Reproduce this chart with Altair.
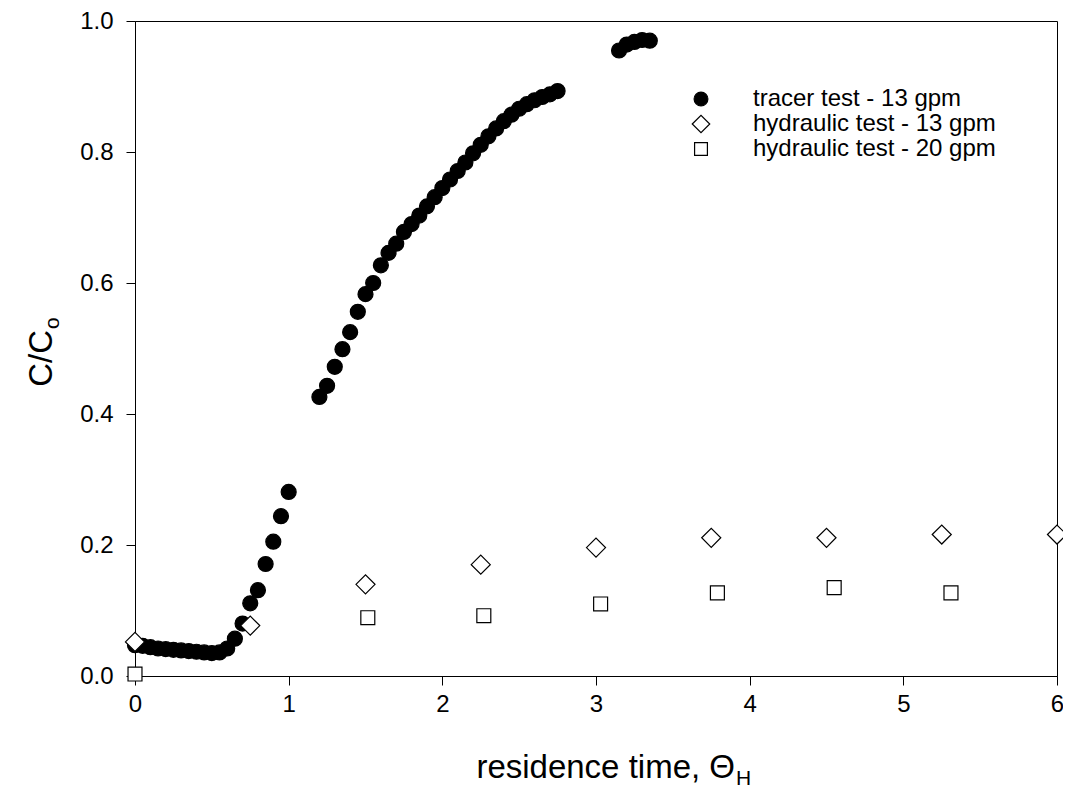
import altair as alt
import pandas as pd

# ---- data ----
tracer_x = [0.00, 0.05, 0.10, 0.15, 0.20, 0.25, 0.30, 0.35, 0.40, 0.45, 0.50, 0.55,
            0.60, 0.65, 0.70, 0.75, 0.80, 0.85, 0.90, 0.95, 1.00,
            1.20, 1.25, 1.30, 1.35, 1.40, 1.45, 1.50, 1.55, 1.60, 1.65, 1.70, 1.75,
            1.80, 1.85, 1.90, 1.95, 2.00, 2.05, 2.10, 2.15, 2.20, 2.25, 2.30, 2.35,
            2.40, 2.45, 2.50, 2.55, 2.60, 2.65, 2.70, 2.75,
            3.15, 3.20, 3.25, 3.30, 3.35]
tracer_y = [0.047, 0.046, 0.044, 0.042, 0.041, 0.040, 0.039, 0.038, 0.037, 0.036, 0.035, 0.036,
            0.042, 0.057, 0.080, 0.111, 0.131, 0.171, 0.205, 0.244, 0.281,
            0.426, 0.443, 0.472, 0.499, 0.525, 0.556, 0.583, 0.600, 0.627, 0.646, 0.660, 0.678,
            0.690, 0.703, 0.717, 0.731, 0.745, 0.758, 0.771, 0.784, 0.798, 0.811, 0.824, 0.836,
            0.847, 0.857, 0.866, 0.873, 0.879, 0.884, 0.888, 0.893,
            0.955, 0.964, 0.968, 0.971, 0.970]

h13_x = [0.0, 0.75, 1.50, 2.25, 3.00, 3.75, 4.50, 5.25, 6.00]
h13_y = [0.052, 0.077, 0.140, 0.170, 0.196, 0.211, 0.211, 0.216, 0.216]

h20_x = [0.0, 1.515, 2.27, 3.03, 3.79, 4.55, 5.31]
h20_y = [0.003, 0.089, 0.092, 0.110, 0.127, 0.135, 0.127]

series = ["tracer test - 13 gpm", "hydraulic test - 13 gpm", "hydraulic test - 20 gpm"]
x_ticks = [0, 1, 2, 3, 4, 5, 6]
y_ticks = [0.0, 0.2, 0.4, 0.6, 0.8, 1.0]

rows = []
for s, xs, ys in zip(series, [tracer_x, h13_x, h20_x], [tracer_y, h13_y, h20_y]):
    for xv, yv in zip(xs, ys):
        rows.append({"series": s, "theta": xv, "c": yv})
df = pd.DataFrame(rows)

FONT = "Liberation Sans"
DIAMOND = "M-1.27,0L0,-1.27L1.27,0L0,1.27Z"
SQUARE = "M-0.93,-0.93L0.93,-0.93L0.93,0.93L-0.93,0.93Z"

leg = alt.Legend(title=None, orient="none", legendX=554, legendY=66)

points = alt.Chart(df).mark_point(
    filled=True, strokeWidth=1.2, opacity=1, fillOpacity=1, size=225
).encode(
    x=alt.X("theta:Q", scale=alt.Scale(domain=[0, 6], nice=False),
            axis=alt.Axis(values=x_ticks, format="d", title=None, labelPadding=7)),
    y=alt.Y("c:Q", scale=alt.Scale(domain=[0, 1], nice=False),
            axis=alt.Axis(values=y_ticks, format=".1f", title=None, labelPadding=13)),
    shape=alt.Shape("series:N", sort=series,
                    scale=alt.Scale(domain=series, range=["circle", DIAMOND, SQUARE]),
                    legend=leg),
    fill=alt.Fill("series:N", sort=series,
                  scale=alt.Scale(domain=series, range=["black", "white", "white"]),
                  legend=leg),
    stroke=alt.Stroke("series:N", sort=series,
                      scale=alt.Scale(domain=series, range=["black", "black", "black"]),
                      legend=leg),
)

one = alt.Data(values=[{}])
xt_main = alt.Chart(one).mark_text(text="residence time, Θ", font=FONT, fontSize=33,
                                   align="right", baseline="alphabetic", color="black"
                                   ).encode(x=alt.value(600), y=alt.value(757))
xt_sub = alt.Chart(one).mark_text(text="H", font=FONT, fontSize=21,
                                  align="left", baseline="alphabetic", color="black"
                                  ).encode(x=alt.value(601), y=alt.value(764))
yt_main = alt.Chart(one).mark_text(text="C/C", font=FONT, fontSize=33, angle=270,
                                   align="right", baseline="alphabetic", color="black"
                                   ).encode(x=alt.value(-83), y=alt.value(309))
yt_sub = alt.Chart(one).mark_text(text="o", font=FONT, fontSize=21, angle=270,
                                  align="left", baseline="alphabetic", color="black"
                                  ).encode(x=alt.value(-76), y=alt.value(308))

chart = alt.layer(points, xt_main, xt_sub, yt_main, yt_sub).properties(
    width=922, height=655,
    autosize="none",
    padding={"left": 127, "top": 13, "right": 6, "bottom": 114},
).configure_view(
    stroke="black", strokeWidth=1
).configure_axis(
    grid=False, domainColor="black", domainWidth=1, tickColor="black", tickWidth=1,
    tickSize=9, labelFont=FONT, labelFontSize=24, labelColor="black", labelFlush=False,
).configure_legend(
    labelFont=FONT, labelFontSize=24, labelColor="black", symbolSize=190,
    symbolStrokeWidth=1.2, rowPadding=1, labelOffset=40, labelLimit=500,
)

chart.save("out.html", embed_options={"renderer": "svg", "actions": False})
